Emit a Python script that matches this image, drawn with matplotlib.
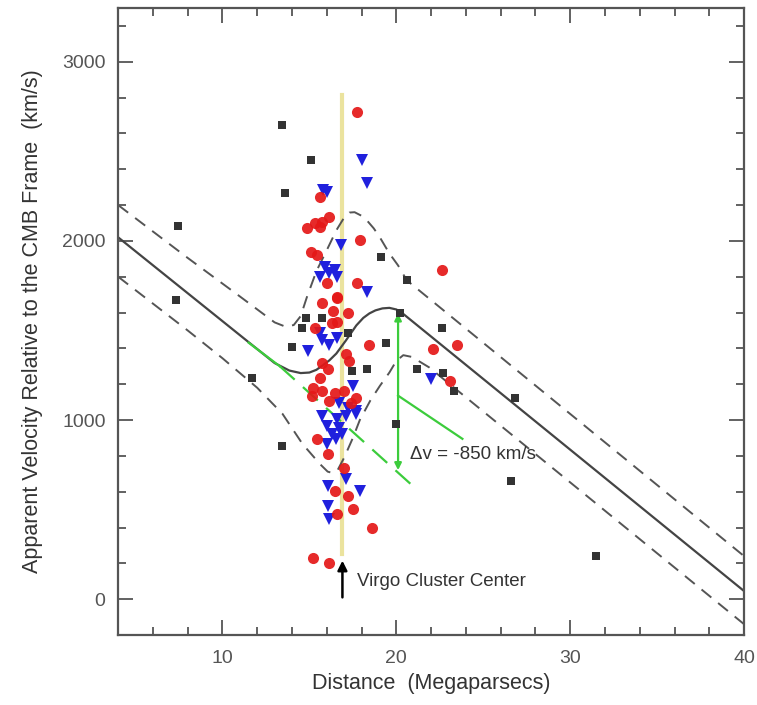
import matplotlib
matplotlib.use("Agg")
import matplotlib.pyplot as plt
from matplotlib.ticker import MultipleLocator

plt.rcParams["font.family"] = ["Liberation Sans", "DejaVu Sans"]

# galaxies: black squares, red circles, blue triangles (distance Mpc, velocity km/s)
black_x = [7.45, 7.35, 11.7, 13.4, 15.1, 13.6, 13.4, 14.0, 14.8, 15.75, 14.6, 17.2, 17.45,
           18.3, 19.1, 19.4, 20.2, 20.6, 22.6, 21.2, 22.7, 23.3, 20.0, 26.8, 26.6, 31.5]
black_y = [2082, 1668, 1237, 2647, 2451, 2266, 856, 1405, 1572, 1572, 1516, 1483, 1276,
           1287, 1908, 1432, 1600, 1780, 1511, 1287, 1265, 1164, 979, 1125, 660, 240]

red_x = [17.75, 15.6, 14.85, 15.3, 15.75, 16.15, 15.6, 17.9, 15.1, 15.45, 16.0, 17.75, 16.6,
         15.75, 16.6, 16.35, 17.2, 16.6, 16.3, 15.3, 18.4, 17.1, 17.3, 15.75, 16.05, 15.6,
         15.2, 15.15, 15.7, 16.45, 17.0, 17.7, 17.4, 16.15, 15.45, 16.05, 17.0, 16.45, 17.2,
         17.5, 16.6, 18.6, 15.2, 16.15, 22.6, 22.1, 23.5, 23.1]
red_y = [2720, 2244, 2070, 2098, 2104, 2132, 2076, 2003, 1936, 1919, 1763, 1763, 1684,
         1651, 1679, 1611, 1600, 1545, 1540, 1516, 1416, 1371, 1332, 1321, 1287, 1237,
         1181, 1136, 1164, 1153, 1164, 1125, 1097, 1108, 895, 811, 733, 604, 576,
         504, 476, 397, 229, 201, 1840, 1399, 1416, 1220]

blue_x = [18.05, 18.3, 16.0, 15.8, 16.8, 15.9, 16.5, 15.6, 16.6, 16.15, 18.3, 15.6, 16.6,
          15.75, 14.9, 16.1, 17.5, 16.7, 17.2, 17.7, 15.75, 16.6, 17.1, 17.7, 16.0, 16.7,
          16.3, 16.55, 16.0, 16.9, 17.1, 16.05, 17.9, 16.15, 16.05, 22.0]
blue_y = [2451, 2322, 2272, 2283, 1975, 1852, 1835, 1796, 1796, 1820, 1712, 1483, 1460,
          1444, 1388, 1420, 1192, 1097, 1069, 1052, 1024, 1007, 1024, 1035, 968, 957,
          923, 895, 867, 923, 671, 632, 604, 448, 520, 1231]

# infall model and its envelope
model_x = [4.0, 8.0, 11.0, 13.0, 13.85, 14.5, 15.0, 15.4, 15.75, 16.15, 16.55, 17.1, 17.7,
           18.1, 18.45, 18.8, 19.2, 19.6, 20.0, 20.3, 40.0]
model_y = [2020, 1708, 1474, 1318, 1276, 1262, 1265, 1280, 1304, 1333, 1371, 1444, 1528,
           1570, 1595, 1612, 1623, 1626, 1617, 1600, 45]

upper_x = [4.0, 8.0, 11.0, 13.0, 13.6, 14.1, 14.5, 14.85, 15.4, 16.05, 16.55, 17.0, 17.3,
           17.6, 18.0, 18.3, 18.7, 19.05, 19.6, 20.1, 20.6, 40.0]
upper_y = [2200, 1905, 1690, 1545, 1522, 1530, 1580, 1684, 1830, 1958, 2059, 2130, 2158,
           2160, 2140, 2115, 2070, 2020, 1930, 1863, 1780, 240]

lower_x = [4.0, 6.0, 8.0, 10.0, 12.0, 13.45, 14.6, 15.6, 16.05, 16.3, 16.6, 17.0, 17.5,
           17.9, 18.5, 19.05, 19.6, 20.0, 20.4, 20.9, 21.9, 40.0]
lower_y = [1800, 1650, 1500, 1345, 1180, 1035, 867, 755, 712, 705, 716, 790, 900,
           1000, 1108, 1190, 1265, 1330, 1362, 1352, 1293, -140]

# annotation geometry in data units
virgo_x = 16.9
virgo_line_y = [250, 2815]
green_solid_x = [11.5, 13.3]
green_solid_y = [1432, 1300]
green_dash_x = [13.3, 21.2]
green_dash_y = [1300, 610]
dv_x = 20.1
dv_y = [1595, 720]
leader_x = [20.1, 23.8]
leader_y = [1136, 895]

GREEN = "#3ccc3c"

fig = plt.figure(figsize=(7.57, 7.05), dpi=100)
ax = fig.add_axes([0.156, 0.0993, 0.827, 0.8894])

ax.plot([virgo_x, virgo_x], virgo_line_y, color="#ebe39e", linewidth=3.0, zorder=1)

ax.plot(upper_x, upper_y, color="#555555", linewidth=1.4, linestyle=(0, (6.5, 4.5)), zorder=2)
ax.plot(lower_x, lower_y, color="#555555", linewidth=1.4, linestyle=(0, (6.5, 4.5)), zorder=2)
ax.plot(model_x, model_y, color="#444444", linewidth=1.6, zorder=2)

ax.plot(green_solid_x, green_solid_y, color=GREEN, linewidth=1.6, zorder=3)
ax.plot(green_dash_x, green_dash_y, color=GREEN, linewidth=1.6,
        linestyle=(0, (9, 5)), zorder=3)
ax.plot(leader_x, leader_y, color=GREEN, linewidth=1.6, zorder=3)
ax.annotate("", xy=(dv_x, dv_y[1]), xytext=(dv_x, dv_y[0]),
            arrowprops=dict(arrowstyle="<|-|>", color=GREEN, lw=1.6,
                            mutation_scale=10, shrinkA=0, shrinkB=0), zorder=3)

ax.plot(black_x, black_y, linestyle="none", marker="s", markersize=6,
        color="#333333", markeredgewidth=0, zorder=4)
ax.plot(blue_x, blue_y, linestyle="none", marker="v", markersize=8.5,
        color="#2020dd", markeredgewidth=0, zorder=5)
ax.plot(red_x, red_y, linestyle="none", marker="o", markersize=8,
        color="#e41818", markeredgewidth=0, alpha=0.92, zorder=5)

ax.annotate("", xy=(virgo_x, 215), xytext=(virgo_x, 10),
            arrowprops=dict(arrowstyle="-|>", color="black", lw=1.8,
                            mutation_scale=14, shrinkA=0, shrinkB=0), zorder=6)
ax.text(17.75, 100, "Virgo Cluster Center", fontsize=13.5, color="#333333",
        ha="left", va="center")
ax.text(20.8, 810, "Δv = -850 km/s", fontsize=13.5, color="#333333",
        ha="left", va="center")

ax.set_xlim(4, 40)
ax.set_ylim(-200, 3300)
ax.xaxis.set_major_locator(MultipleLocator(10))
ax.xaxis.set_minor_locator(MultipleLocator(2))
ax.yaxis.set_major_locator(MultipleLocator(1000))
ax.yaxis.set_minor_locator(MultipleLocator(200))
ax.tick_params(which="both", direction="in", top=True, right=True,
               color="#555555", width=1.3, labelsize=14, labelcolor="#555555")
ax.tick_params(which="major", length=11, pad=9)
ax.tick_params(axis="x", which="major", pad=11)
ax.tick_params(which="minor", length=5.5)
for spine in ax.spines.values():
    spine.set_color("#555555")
    spine.set_linewidth(1.6)

ax.set_xlabel("Distance  (Megaparsecs)", fontsize=15.5, color="#333333", labelpad=4)
ax.set_ylabel("Apparent Velocity Relative to the CMB Frame  (km/s)", fontsize=15.5,
              color="#333333", labelpad=14)

fig.savefig("out.png", dpi=100)
